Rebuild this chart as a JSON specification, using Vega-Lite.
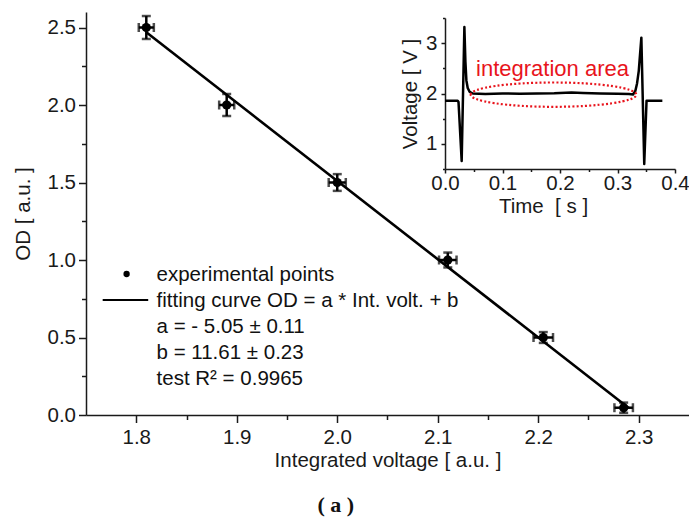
{
  "$schema": "https://vega.github.io/schema/vega-lite/v6.json",
  "width": 603,
  "height": 403,
  "autosize": "none",
  "padding": {"left": 86, "top": 12, "right": 0, "bottom": 103},
  "background": "white",
  "config": {
    "view": {"stroke": null},
    "font": "Liberation Sans",
    "axis": {
      "grid": false,
      "labelFlush": false,
      "domainColor": "#1a1a1a",
      "domainWidth": 1.5,
      "tickColor": "#1a1a1a",
      "tickWidth": 1.5,
      "labelFont": "Liberation Sans",
      "labelColor": "#1a1a1a",
      "titleFont": "Liberation Sans",
      "titleFontWeight": "normal",
      "titleColor": "#1a1a1a"
    }
  },
  "datasets": {
    "points": [
      {"x": 1.81, "y": 2.5, "ex": 0.0075, "ey": 0.074},
      {"x": 1.89, "y": 2.0, "ex": 0.0075, "ey": 0.071},
      {"x": 2.0, "y": 1.5, "ex": 0.0085, "ey": 0.054},
      {"x": 2.11, "y": 1.0, "ex": 0.0087, "ey": 0.048},
      {"x": 2.205, "y": 0.5, "ex": 0.0097, "ey": 0.035},
      {"x": 2.285, "y": 0.047, "ex": 0.0092, "ey": 0.033}
    ],
    "fit": [
      {"x": 1.81, "y": 2.4695},
      {"x": 2.29, "y": 0.0455}
    ],
    "trace": [
      {"t": 0.0, "v": 1.855},
      {"t": 0.01, "v": 1.855},
      {"t": 0.022, "v": 1.855},
      {"t": 0.0235, "v": 1.83},
      {"t": 0.029, "v": 0.66},
      {"t": 0.0337, "v": 3.32},
      {"t": 0.0355, "v": 2.63},
      {"t": 0.0372, "v": 2.26},
      {"t": 0.0395, "v": 2.11},
      {"t": 0.043, "v": 2.03},
      {"t": 0.0483, "v": 2.0},
      {"t": 0.07, "v": 1.99},
      {"t": 0.1, "v": 2.0},
      {"t": 0.13, "v": 1.995},
      {"t": 0.16, "v": 2.0},
      {"t": 0.19, "v": 2.005},
      {"t": 0.22, "v": 2.02},
      {"t": 0.24, "v": 2.01},
      {"t": 0.27, "v": 2.0},
      {"t": 0.3, "v": 1.995},
      {"t": 0.32, "v": 1.99},
      {"t": 0.327, "v": 1.98},
      {"t": 0.331, "v": 2.05},
      {"t": 0.334, "v": 2.2},
      {"t": 0.337, "v": 2.45},
      {"t": 0.339, "v": 2.75},
      {"t": 0.3415, "v": 3.11},
      {"t": 0.3465, "v": 0.6},
      {"t": 0.3505, "v": 1.855},
      {"t": 0.378, "v": 1.855}
    ]
  },
  "layer": [
    {
      "layer": [
        {
          "data": {"name": "points"},
          "mark": {"type": "errorbar", "ticks": true, "thickness": 2.5, "size": 9, "color": "black"},
          "encoding": {
            "x": {
              "field": "x", "type": "quantitative",
              "title": "Integrated voltage [ a.u. ]",
              "scale": {"domain": [1.75, 2.35], "nice": false, "zero": false},
              "axis": {
                "titleFontSize": 20.5,
                "titlePadding": 2,
                "labelFontSize": 20.5,
                "labelPadding": 5,
                "values": [1.8, 1.85, 1.9, 1.95, 2.0, 2.05, 2.1, 2.15, 2.2, 2.25, 2.3],
                "labelExpr": "abs(datum.value*10 - round(datum.value*10)) < 0.01 ? format(datum.value, '.1f') : ''",
                "tickSize": {"condition": {"test": "abs(datum.value*10 - round(datum.value*10)) < 0.01", "value": 7.5}, "value": 4.5}
              }
            },
            "y": {
              "field": "y", "type": "quantitative",
              "title": "OD [ a.u. ]",
              "scale": {"domain": [0, 2.6], "nice": false, "zero": false},
              "axis": {
                "titleFontSize": 20.5,
                "titlePadding": 14,
                "labelFontSize": 20.5,
                "labelPadding": 3,
                "values": [0, 0.25, 0.5, 0.75, 1.0, 1.25, 1.5, 1.75, 2.0, 2.25, 2.5],
                "labelExpr": "abs(datum.value*2 - round(datum.value*2)) < 0.01 ? format(datum.value, '.1f') : ''",
                "tickSize": {"condition": {"test": "abs(datum.value*2 - round(datum.value*2)) < 0.01", "value": 7.5}, "value": 4.5}
              }
            },
            "yError": {"field": "ey"}
          }
        },
        {
          "data": {"name": "points"},
          "mark": {"type": "errorbar", "ticks": true, "thickness": 2.5, "size": 9, "color": "black"},
          "encoding": {
            "x": {"field": "x", "type": "quantitative", "title": "Integrated voltage [ a.u. ]"},
            "y": {"field": "y", "type": "quantitative", "title": "OD [ a.u. ]"},
            "xError": {"field": "ex"}
          }
        },
        {
          "data": {"name": "points"},
          "mark": {"type": "point", "filled": true, "shape": "circle", "size": 85, "color": "black", "opacity": 1},
          "encoding": {
            "x": {"field": "x", "type": "quantitative", "title": "Integrated voltage [ a.u. ]"},
            "y": {"field": "y", "type": "quantitative", "title": "OD [ a.u. ]"}
          }
        },
        {
          "data": {"name": "fit"},
          "mark": {"type": "line", "color": "black", "strokeWidth": 2.6},
          "encoding": {
            "x": {"field": "x", "type": "quantitative", "title": "Integrated voltage [ a.u. ]"},
            "y": {"field": "y", "type": "quantitative", "title": "OD [ a.u. ]"}
          }
        },
        {
          "data": {"values": [{}]},
          "mark": {"type": "point", "filled": true, "shape": "circle", "size": 40, "color": "black", "opacity": 1},
          "encoding": {"x": {"datum": 1.7904}, "y": {"datum": 0.9097}}
        },
        {
          "data": {"values": [{}]},
          "mark": {"type": "rule", "color": "black", "strokeWidth": 2},
          "encoding": {"x": {"datum": 1.7666}, "x2": {"datum": 1.8119}, "y": {"datum": 0.742}}
        },
        {
          "data": {"values": [{}]},
          "mark": {"type": "text", "align": "left", "baseline": "alphabetic", "fontSize": 20.5, "lineHeight": 26, "color": "#111", "font": "Liberation Sans"},
          "encoding": {
            "x": {"datum": 1.8202},
            "y": {"datum": 0.862},
            "text": {"value": ["experimental points", "fitting curve OD = a * Int. volt. + b", "a = - 5.05 ± 0.11", "b = 11.61 ± 0.23", "test R² = 0.9965"]}
          }
        },
        {
          "data": {"values": [{}]},
          "mark": {"type": "text", "align": "center", "baseline": "middle", "fontSize": 22, "font": "Liberation Serif", "fontWeight": "bold", "color": "#111"},
          "encoding": {"x": {"datum": 1.9985}, "y": {"datum": -0.58}, "text": {"value": "( a )"}}
        }
      ]
    },
    {
      "layer": [
        {
          "data": {"name": "trace"},
          "mark": {"type": "line", "color": "black", "strokeWidth": 2.5, "strokeJoin": "round"},
          "encoding": {
            "x": {
              "field": "t", "type": "quantitative",
              "title": "Time\u00a0 [ s ]",
              "scale": {"domain": [0, 0.4], "range": [359, 589], "nice": false, "zero": false},
              "axis": {
                "orient": "bottom",
                "offset": -246,
                "titleFontSize": 20.5,
                "titlePadding": 3,
                "titleX": 457,
                "labelFontSize": 20.5,
                "labelPadding": 0,
                "values": [0, 0.05, 0.1, 0.15, 0.2, 0.25, 0.3, 0.35, 0.4],
                "labelExpr": "abs(datum.value*10 - round(datum.value*10)) < 0.01 ? format(datum.value, '.1f') : ''",
                "tickSize": {"condition": {"test": "abs(datum.value*10 - round(datum.value*10)) < 0.01", "value": 4}, "value": 2.5}
              }
            },
            "y": {
              "field": "v", "type": "quantitative",
              "title": "Voltage [ V ]",
              "scale": {"domain": [0.5, 3.5], "range": [157, 6], "nice": false, "zero": false},
              "axis": {
                "orient": "left",
                "offset": -359,
                "titleFontSize": 20.5,
                "titlePadding": 5,
                "labelFontSize": 20.5,
                "labelPadding": 4,
                "values": [0.5, 1, 1.5, 2, 2.5, 3, 3.5],
                "labelExpr": "abs(datum.value - round(datum.value)) < 0.01 ? format(datum.value, 'd') : ''",
                "tickSize": {"condition": {"test": "abs(datum.value - round(datum.value)) < 0.01", "value": 4}, "value": 2.5}
              }
            }
          }
        },
        {
          "data": {"values": [{}]},
          "mark": {
            "type": "point",
            "shape": "M-1,0 C-1,-0.0811 -0.5523,-0.1468 0,-0.1468 C0.5523,-0.1468 1,-0.0811 1,0 C1,0.0811 0.5523,0.1468 0,0.1468 C-0.5523,0.1468 -1,0.0811 -1,0 Z",
            "filled": false,
            "size": 27456,
            "stroke": "#e8141c",
            "strokeWidth": 2.2,
            "strokeDash": [2, 2.2],
            "opacity": 1
          },
          "encoding": {"x": {"datum": 0.1887}, "y": {"datum": 1.977}}
        },
        {
          "data": {"values": [{}]},
          "mark": {"type": "text", "align": "center", "baseline": "middle", "fontSize": 22, "color": "#e8141c", "font": "Liberation Sans"},
          "encoding": {"x": {"datum": 0.187}, "y": {"datum": 2.49}, "text": {"value": "integration area"}}
        }
      ]
    }
  ],
  "resolve": {
    "scale": {"x": "independent", "y": "independent"},
    "axis": {"x": "independent", "y": "independent"}
  }
}
